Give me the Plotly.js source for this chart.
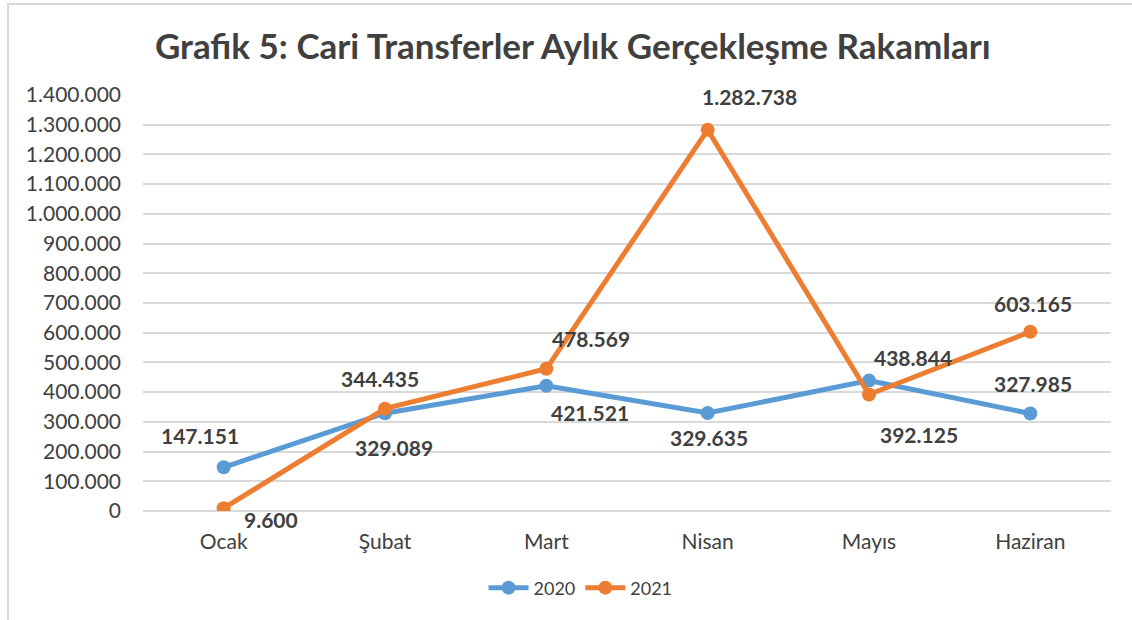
<!DOCTYPE html>
<html>
<head>
<meta charset="utf-8">
<script src="https://cdn.plot.ly/plotly-3.0.1.min.js"></script>
<style>
  html, body { margin: 0; padding: 0; width: 1132px; height: 620px; overflow: hidden; background: #fff; }
  #frame { position: absolute; left: 7px; top: 3px; width: 1200px; height: 700px; border: 2px solid #d9d9d9; box-sizing: border-box; }
  #chart { position: absolute; left: 0; top: 0; width: 1132px; height: 620px; }
</style>
</head>
<body>
<div id="frame"></div>
<div id="chart"></div>
<script>
// ---- data ----
const months = ["Ocak", "Şubat", "Mart", "Nisan", "Mayıs", "Haziran"];
const values2020 = [147151, 329089, 421521, 329635, 438844, 327985];
const values2021 = [9600, 344435, 478569, 1282738, 392125, 603165];
const seriesNames = ["2020", "2021"];

// ---- label placement (pixel offsets from each point) ----
const offsets2020 = [[-24, 32], [9, -34], [44, -27], [1, -24], [44, 23], [3, 30]];
const offsets2021 = [[47, -11], [-5, 30], [45, 30], [42, 33], [50, -40], [3, 28]];

const FONT = "Lato, 'Open Sans', sans-serif";
const TXT = "#404040";
const colors = ["#5B9BD5", "#ED7D31"];

function fmt(v) {
  return String(v).replace(/\B(?=(\d{3})+(?!\d))/g, ".");
}

const traces = [values2020, values2021].map((vals, k) => ({
  type: "scatter",
  mode: "lines+markers",
  name: seriesNames[k],
  x: months,
  y: vals,
  line: { color: colors[k], width: 5 },
  marker: { color: colors[k], size: 14 },
  hoverinfo: "skip"
}));

const annotations = [];
[[values2020, offsets2020], [values2021, offsets2021]].forEach(([vals, offs]) => {
  vals.forEach((v, i) => {
    annotations.push({
      x: months[i], y: v, xref: "x", yref: "y",
      text: fmt(v), showarrow: false,
      xshift: offs[i][0], yshift: offs[i][1],
      font: { family: FONT, size: 21, color: TXT, weight: "bold" }
    });
  });
});

const layout = {
  width: 1132, height: 620,
  paper_bgcolor: "rgba(0,0,0,0)",
  plot_bgcolor: "rgba(0,0,0,0)",
  separators: ",.",
  margin: { l: 143, r: 21, t: 95, b: 109 },
  font: { family: FONT, color: TXT },
  title: {
    text: "<b>Grafik 5: Cari Transferler Aylık Gerçekleşme Rakamları</b>",
    font: { family: FONT, size: 35, color: TXT },
    x: 0.506, xanchor: "center", xref: "container",
    y: 1 - 47 / 620, yanchor: "middle", yref: "container"
  },
  xaxis: {
    type: "category",
    range: [-0.5, 5.5],
    showgrid: false, zeroline: false, showline: false,
    ticks: "", ticklabelstandoff: 16,
    tickfont: { family: FONT, size: 21, color: TXT }
  },
  yaxis: {
    range: [0, 1400000],
    dtick: 100000, tick0: 0,
    tickformat: ",d",
    showgrid: true, gridcolor: "#d9d9d9", gridwidth: 2,
    zeroline: true, zerolinecolor: "#d9d9d9", zerolinewidth: 2,
    showline: false, ticks: "", ticklabelstandoff: 21,
    tickfont: { family: FONT, size: 21, color: TXT }
  },
  showlegend: true,
  legend: {
    orientation: "h",
    x: 0.452, xanchor: "center",
    y: -0.185, yanchor: "middle",
    font: { family: FONT, size: 18, color: TXT },
    itemwidth: 40
  },
  annotations: annotations
};

Plotly.newPlot("chart", traces, layout, { displayModeBar: false, staticPlot: true });
</script>
</body>
</html>
